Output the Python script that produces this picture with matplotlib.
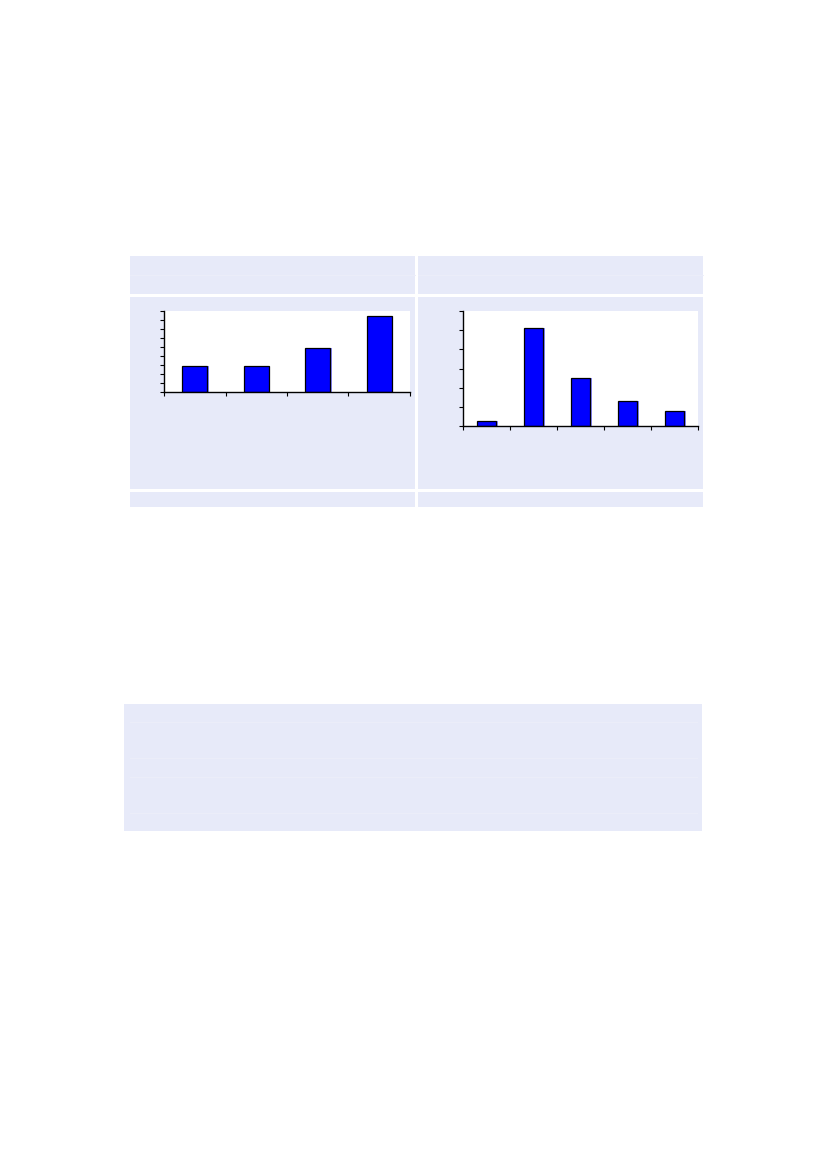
import matplotlib
matplotlib.use("Agg")
import matplotlib.pyplot as plt
import matplotlib.patheffects as pe
from matplotlib.patches import Rectangle
from matplotlib.lines import Line2D

# values (no labels in the source)
left_values = [2.81, 2.81, 4.84, 8.44]
right_values = [0.28, 5.11, 2.51, 1.31, 0.79]
left_ymax = 9
right_ymax = 6

W, H = 827, 1169
PANEL = "#E7EAF9"
RULE = "#ECEEFA"
BAR = "#0000FF"
SHADOW = "#8C8CFF"

fig = plt.figure(figsize=(W / 100, H / 100), dpi=100)
fig.patch.set_facecolor("white")


def px_rect(x0, y0, x1, y1, color):
    # rectangle given in pixel coords (origin top-left)
    fig.patches.append(Rectangle((x0 / W, 1 - y1 / H), (x1 - x0) / W, (y1 - y0) / H,
                                 transform=fig.transFigure, facecolor=color,
                                 edgecolor="none", zorder=-2))


def px_hline(x0, x1, y, color):
    fig.lines.append(Line2D([x0 / W, x1 / W], [1 - y / H, 1 - y / H],
                            transform=fig.transFigure, color=color, lw=0.7, zorder=-1))


# upper table: header, body, footer, two columns
for cx0, cx1 in [(130, 415), (418, 703)]:
    px_rect(cx0, 256, cx1, 294, PANEL)
    px_hline(cx0, cx1, 275, RULE)
    px_rect(cx0, 297, cx1, 489, PANEL)
    px_rect(cx0, 492, cx1, 507, PANEL)

# lower panel
px_rect(124, 704, 702, 831, PANEL)
for y in [722, 758, 777, 813]:
    px_hline(130, 697, y, RULE)


def bar_axes(x0, y0, x1, y1, values, ymax, width):
    ax = fig.add_axes([x0 / W, 1 - y1 / H, (x1 - x0) / W, (y1 - y0) / H])
    ax.set_zorder(5)
    ax.set_facecolor("white")
    n = len(values)
    pos = [i + 0.5 for i in range(n)]
    ax.bar(pos, values, width=width, color=BAR, edgecolor="black", linewidth=0.9,
           path_effects=[pe.SimplePatchShadow(offset=(1.2, 0), shadow_rgbFace=SHADOW, alpha=1),
                         pe.Normal()])
    ax.set_xlim(0, n)
    ax.set_ylim(0, ymax)
    ax.set_xticks(range(n + 1))
    ax.set_yticks(range(ymax + 1))
    ax.set_xticklabels([])
    ax.set_yticklabels([])
    ax.tick_params(direction="out", length=3, width=0.8, color="black")
    for s in ["top", "right"]:
        ax.spines[s].set_visible(False)
    for s in ["left", "bottom"]:
        ax.spines[s].set_linewidth(1.0)
        ax.spines[s].set_color("black")
    return ax


bar_axes(164, 311, 410, 391.5, left_values, left_ymax, 0.4)
bar_axes(463, 311, 698, 426, right_values, right_ymax, 0.42)

fig.savefig("out.png", dpi=100, facecolor="white")
